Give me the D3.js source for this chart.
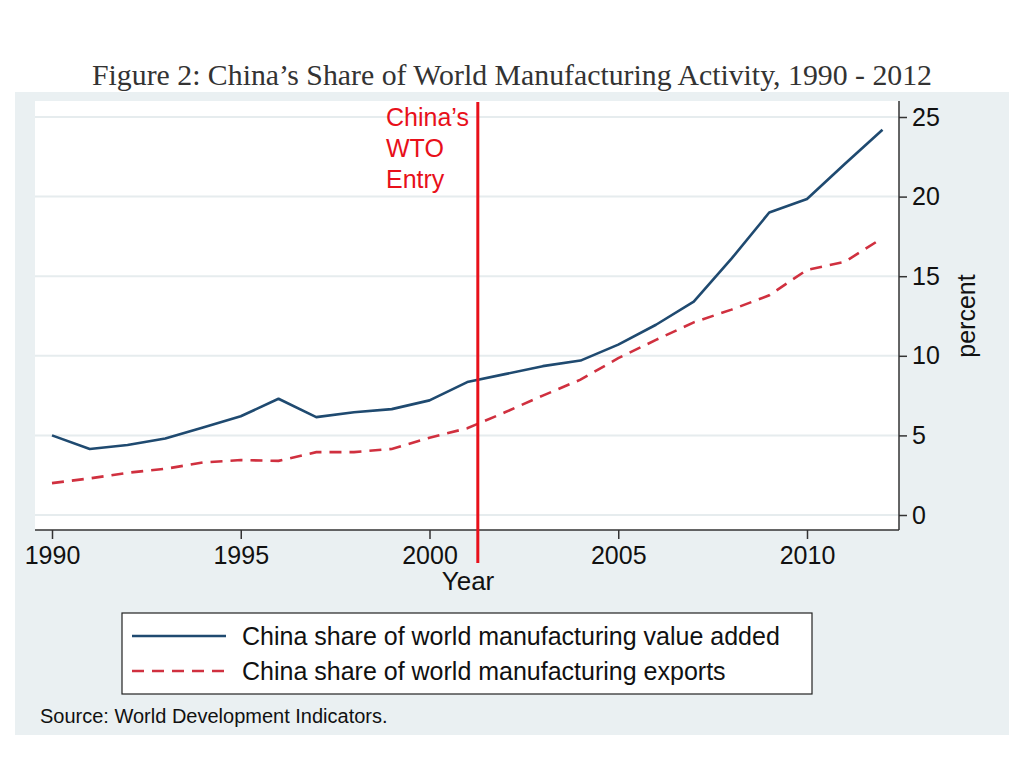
<!DOCTYPE html>
<html><head><meta charset="utf-8">
<script src="https://cdn.jsdelivr.net/npm/d3@7"></script>
<style>body{margin:0;background:#fff;} svg{display:block;}</style>
</head><body>
<svg id="c" width="1024" height="768"></svg>
<script>
const years = d3.range(1990, 2013);
const valueAdded = [5.0,4.15,4.4,4.8,5.5,6.2,7.3,6.15,6.45,6.65,7.2,8.35,8.85,9.35,9.7,10.7,11.95,13.4,16.1,19.0,19.85,22.05,24.2];
const exportsShare = [2.0,2.3,2.65,2.9,3.3,3.45,3.4,3.95,3.95,4.15,4.85,5.45,6.45,7.5,8.5,9.85,11.0,12.1,12.9,13.8,15.4,15.9,17.4];
const xTicks = [1990,1995,2000,2005,2010];
const yTicks = [0,5,10,15,20,25];
const wtoYear = 2001.28;
const seriesNames = ["China share of world manufacturing value added","China share of world manufacturing exports"];
const titleText = "Figure 2: China\u2019s Share of World Manufacturing Activity, 1990 - 2012";
const wtoLabel = ["China\u2019s","WTO","Entry"];
const sourceText = "Source: World Development Indicators.";

const svg = d3.select("#c");
const sans = "Liberation Sans, Arial, sans-serif";
const blue = "#1f4a70", red = "#d0303f";

// title
svg.append("text").attr("x",92).attr("y",85)
  .attr("font-family","Liberation Serif, serif").attr("font-size",29).attr("fill","#333")
  .attr("textLength",840).attr("lengthAdjust","spacingAndGlyphs")
  .text(titleText);

// panel background
svg.append("rect").attr("x",15).attr("y",92).attr("width",994).attr("height",643).attr("fill","#eaf0f2");

const plot = {l:35, r:899, t:101, b:530};
svg.append("rect").attr("x",plot.l).attr("y",plot.t).attr("width",plot.r-plot.l).attr("height",plot.b-plot.t).attr("fill","#fff");

const x = d3.scaleLinear().domain([1990,2010]).range([52,807]);
const y = d3.scaleLinear().domain([0,25]).range([515,117]);

// gridlines
svg.append("g").selectAll("line").data(yTicks).join("line")
  .attr("x1",plot.l).attr("x2",plot.r).attr("y1",d=>y(d)).attr("y2",d=>y(d))
  .attr("stroke","#e6ecee").attr("stroke-width",2);

// x axis
const xAxis = svg.append("g").attr("transform",`translate(0,${plot.b})`)
  .call(d3.axisBottom(x).tickValues(xTicks).tickFormat(d3.format("d")).tickSize(9).tickPadding(7));
xAxis.select(".domain").attr("d",`M${plot.l},0H${plot.r}`).attr("stroke","#333").attr("stroke-width",1.5);
xAxis.selectAll(".tick line").attr("stroke","#333").attr("stroke-width",1.5);
xAxis.selectAll("text").attr("font-family",sans).attr("font-size",25).attr("fill","#111");

// y axis (right)
const yAxis = svg.append("g").attr("transform",`translate(${plot.r},0)`)
  .call(d3.axisRight(y).tickValues(yTicks).tickSize(8).tickPadding(5));
yAxis.select(".domain").attr("d",`M0,${plot.t}V${plot.b}`).attr("stroke","#333").attr("stroke-width",1.5);
yAxis.selectAll(".tick line").attr("stroke","#333").attr("stroke-width",1.5);
yAxis.selectAll("text").attr("font-family",sans).attr("font-size",25).attr("fill","#111");

// axis titles
svg.append("text").attr("x",468).attr("y",590).attr("text-anchor","middle")
  .attr("font-family",sans).attr("font-size",26).attr("fill","#111").text("Year");
svg.append("text").attr("transform","translate(975,316) rotate(-90)").attr("text-anchor","middle")
  .attr("font-family",sans).attr("font-size",25).attr("fill","#111").text("percent");

// lines
const line = d3.line().x((d,i)=>x(years[i])).y(d=>y(d));
svg.append("path").datum(valueAdded).attr("d",line).attr("fill","none")
  .attr("stroke",blue).attr("stroke-width",2.6).attr("stroke-linejoin","round");
svg.append("path").datum(exportsShare).attr("d",line).attr("fill","none")
  .attr("stroke",red).attr("stroke-width",2.6).attr("stroke-dasharray","12,8");

// WTO line
svg.append("line").attr("x1",x(wtoYear)).attr("x2",x(wtoYear)).attr("y1",102).attr("y2",563)
  .attr("stroke","#e8101a").attr("stroke-width",3);
svg.append("g").selectAll("text").data(wtoLabel).join("text")
  .attr("x",386).attr("y",(d,i)=>126+i*31)
  .attr("font-family",sans).attr("font-size",25).attr("fill","#e8101a").text(d=>d);

// legend
svg.append("rect").attr("x",122).attr("y",613).attr("width",690).attr("height",81)
  .attr("fill","#fff").attr("stroke","#222").attr("stroke-width",1.2);
const lg = svg.append("g");
[0,1].forEach(i=>{
  const yy = 636 + i*35;
  lg.append("line").attr("x1",132).attr("x2",226).attr("y1",yy).attr("y2",yy)
    .attr("stroke", i===0?blue:red).attr("stroke-width",2.6)
    .attr("stroke-dasharray", i===0?null:"12,8");
  lg.append("text").attr("x",242).attr("y",yy+9).attr("font-family",sans).attr("font-size",25)
    .attr("fill","#111").text(seriesNames[i]);
});

// source
svg.append("text").attr("x",40).attr("y",723).attr("font-family",sans).attr("font-size",20)
  .attr("fill","#111").text(sourceText);
</script>
</body></html>
